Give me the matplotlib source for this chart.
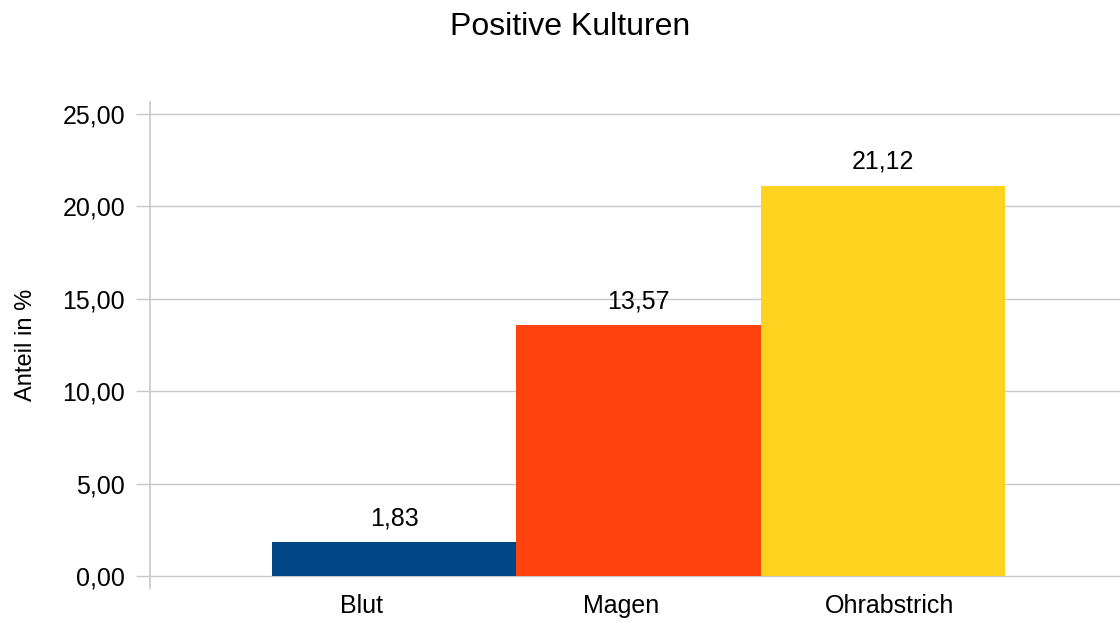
import matplotlib
matplotlib.use("Agg")
from matplotlib import pyplot as plt

# data
categories = ["Blut", "Magen", "Ohrabstrich"]
values = [1.83, 13.57, 21.12]
colors = ["#004586", "#ff420e", "#ffd320"]
yticks = [0, 5, 10, 15, 20, 25]
label_pos = [-0.136, 0.927, 2.028]   # where the category names sit

plt.rcParams["font.family"] = ["Liberation Sans", "DejaVu Sans"]

fig = plt.figure(figsize=(11.2, 6.22), dpi=100)
ax = fig.add_axes([150 / 1120, 1 - 588 / 622, 970 / 1120, 486 / 622])

xs = list(range(len(values)))
bars = ax.bar(xs, values, width=1.0, color=colors, zorder=3)

for x, v in zip(xs, values):
    ax.text(x, v + 0.65, f"{v:.2f}".replace(".", ","), ha="center", va="bottom",
            fontsize=18, zorder=4)

ax.set_xlim(-1.0, 2.97)
ax.set_ylim(-0.65, 25.65)

ax.set_yticks(yticks)
ax.set_yticklabels([f"{t:.2f}".replace(".", ",") for t in yticks], fontsize=18)
ax.set_xticks(label_pos)
ax.set_xticklabels(categories, fontsize=18)
ax.tick_params(axis="x", length=0, pad=4)
ax.tick_params(axis="y", length=10, width=1, color="#c8c8c8", pad=8)

ax.grid(axis="y", color="#c8c8c8", linewidth=1, zorder=0)
for s in ["top", "right", "bottom"]:
    ax.spines[s].set_visible(False)
ax.spines["left"].set_color("#c8c8c8")
ax.spines["left"].set_linewidth(1.2)

ax.set_ylabel("Anteil in %", fontsize=17, labelpad=18)
fig.text(570 / 1120, 1 - 27 / 622, "Positive Kulturen", ha="center", va="center", fontsize=23)

fig.savefig("out.png", dpi=100)
